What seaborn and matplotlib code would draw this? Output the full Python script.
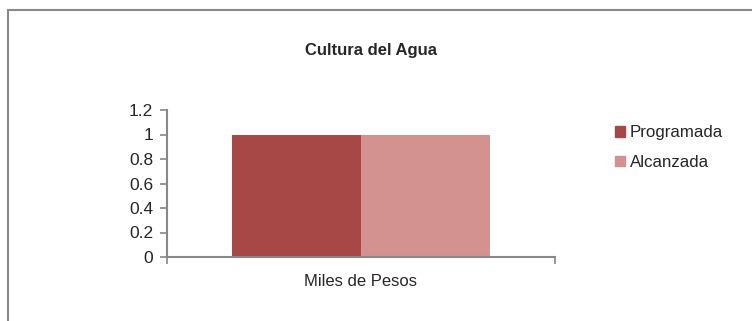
import matplotlib
matplotlib.use("Agg")
import matplotlib.pyplot as plt
import matplotlib.patches as mpatches
import pandas as pd
import seaborn as sns

# data
categories = ["Miles de Pesos"]
series = ["Programada", "Alcanzada"]
programada = [1.0]
alcanzada = [1.0]
y_ticks = [0, 0.2, 0.4, 0.6, 0.8, 1, 1.2]
y_tick_labels = ["0", "0.2", "0.4", "0.6", "0.8", "1", "1.2"]

colors = ["#A84846", "#D39190"]

df = pd.DataFrame({
    "categoria": categories * 2,
    "serie": [series[0]] * len(categories) + [series[1]] * len(categories),
    "valor": programada + alcanzada,
})

sns.set_style("white")
plt.rcParams["font.family"] = ["Liberation Sans", "DejaVu Sans"]

fig = plt.figure(figsize=(7.52, 3.21), dpi=100)
ax = fig.add_axes([167 / 752, 64 / 321, 388 / 752, 147 / 321])

sns.barplot(data=df, x="categoria", y="valor", hue="serie",
            palette=colors, width=0.667, gap=0, saturation=1,
            linewidth=0, legend=False, ax=ax)

ax.set_xlim(-0.5, 0.5)
ax.set_ylim(0, 1.2)
ax.set_yticks(y_ticks)
ax.set_yticklabels(y_tick_labels, fontsize=12.5)
ax.set_xlabel("")
ax.set_ylabel("")
ax.set_xticks([0])
ax.set_xticklabels(categories, fontsize=12)
ax.tick_params(axis="x", which="major", bottom=True, length=0, pad=12)
ax.set_xticks([-0.5, 0.5], minor=True)
ax.tick_params(axis="x", which="minor", bottom=True, length=5, direction="out",
               color="#888888", width=1.2)
ax.tick_params(axis="y", left=True, length=5, color="#888888", width=1.2,
               direction="out", pad=5)

for side in ["top", "right"]:
    ax.spines[side].set_visible(False)
for side in ["left", "bottom"]:
    ax.spines[side].set_color("#888888")
    ax.spines[side].set_linewidth(1.5)

fig.text(371 / 752, 1 - 50 / 321, "Cultura del Agua", ha="center", va="center",
         fontsize=12, fontweight="bold",
         family=["Liberation Sans Narrow", "Liberation Sans", "DejaVu Sans"])

handles = [mpatches.Patch(color=c, label=s) for c, s in zip(colors, series)]
fig.legend(handles=handles, loc="upper left", bbox_to_anchor=(607 / 752, 1 - 117 / 321),
           frameon=False, fontsize=12.2, handlelength=0.55, handleheight=0.55,
           handletextpad=0.3, labelspacing=0.85, borderpad=0)

# outer chart frame (only left and top edges fall inside the picture)
frame = mpatches.Rectangle((8 / 752, -0.5), 2.0, 1 - 10 / 321 + 0.5,
                           transform=fig.transFigure, fill=False,
                           edgecolor="#8a8a8a", linewidth=1.5)
fig.patches.append(frame)

fig.savefig("out.png", dpi=100)
